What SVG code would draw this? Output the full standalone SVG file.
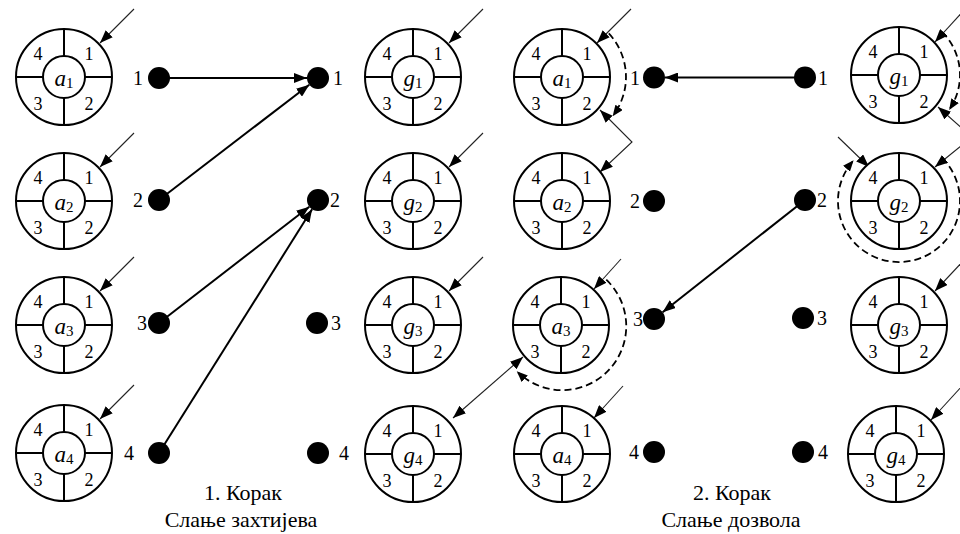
<svg xmlns="http://www.w3.org/2000/svg" xmlns:xlink="http://www.w3.org/1999/xlink" width="960" height="534" viewBox="0 0 960 534" font-family="Liberation Serif">
<style>
.rc{fill:#fff;stroke:#000;stroke-width:2}
.sp{fill:none;stroke:#000;stroke-width:2}
.q{font-size:18px;fill:#000;text-anchor:middle}
.nm{font-size:23px;font-style:italic;fill:#000;text-anchor:middle}
.sb{font-size:15px;font-style:normal}
.dot{fill:#000}
.dl{font-size:20px;fill:#000}
.e{text-anchor:end}
.main{fill:none;stroke:#000;stroke-width:2;marker-end:url(#ah)}
.thin{fill:none;stroke:#222;stroke-width:1.1;marker-end:url(#at)}
.dbl{fill:none;stroke:#222;stroke-width:1.1;marker-end:url(#at);marker-start:url(#at)}
.dash{fill:none;stroke:#000;stroke-width:1.8;stroke-dasharray:7 4;marker-end:url(#ad)}
.cap{font-size:22px;fill:#000;text-anchor:middle}
</style>
<defs>
<marker id="ah" viewBox="0 0 13 10" refX="13" refY="5" markerWidth="13" markerHeight="10" markerUnits="userSpaceOnUse" orient="auto"><path d="M0,0L13,5L0,10Z" fill="#000"/></marker>
<marker id="at" viewBox="0 0 13 10" refX="13" refY="5" markerWidth="13" markerHeight="10" markerUnits="userSpaceOnUse" orient="auto-start-reverse"><path d="M0,0L13,5L0,10Z" fill="#000"/></marker>
<marker id="ad" viewBox="0 0 11 9" refX="9" refY="4.5" markerWidth="11" markerHeight="9" markerUnits="userSpaceOnUse" orient="auto"><path d="M0,0L11,4.5L0,9Z" fill="#000"/></marker>
<g id="ring" font-family="Liberation Serif">
<circle class="rc" r="48"/>
<circle class="rc" r="21"/>
<path class="sp" d="M0,-48V-21M0,21V48M-48,0H-21M21,0H48"/>
<text class="q" x="-26" y="-17">4</text>
<text class="q" x="25" y="-17">1</text>
<text class="q" x="-26" y="33">3</text>
<text class="q" x="25" y="33">2</text>
</g>
</defs>

<g id="connectors">
<line class="main" x1="159" y1="78" x2="307" y2="78"/>
<line class="main" x1="159" y1="200" x2="309.3" y2="84.7"/>
<line class="main" x1="159" y1="323" x2="309.3" y2="206.7"/>
<line class="main" x1="159" y1="453" x2="312.1" y2="209.3"/>
<line class="main" x1="805" y1="77.5" x2="665" y2="77.5"/>
<line class="main" x1="805" y1="200" x2="662.6" y2="312.2"/>

<line class="thin" x1="134" y1="9" x2="100" y2="43"/>
<line class="thin" x1="134" y1="133" x2="100" y2="167"/>
<line class="thin" x1="134" y1="257" x2="100" y2="291"/>
<line class="thin" x1="134" y1="385" x2="100" y2="419"/>
<line class="thin" x1="483" y1="9" x2="449" y2="43"/>
<line class="thin" x1="483" y1="133" x2="449" y2="167"/>
<line class="thin" x1="483" y1="257" x2="449" y2="291"/>
<line class="dbl" x1="523" y1="357" x2="453" y2="418"/>

<line class="thin" x1="631" y1="9" x2="597" y2="43"/>
<polyline class="dbl" points="600,110 632,142 600,172"/>
<line class="thin" x1="621" y1="259" x2="594" y2="289"/>
<line class="thin" x1="623" y1="386" x2="594" y2="418"/>

<line class="thin" x1="966" y1="8" x2="935" y2="42"/>
<polyline class="dbl" points="938,107 972,137 935,167"/>
<line class="thin" x1="838" y1="137" x2="869" y2="167"/>
<line class="thin" x1="966" y1="258" x2="935" y2="291"/>
<line class="thin" x1="962" y1="386" x2="931" y2="420"/>

<path class="dash" d="M608.8,33.4A64,64 0 0 1 613.8,114.6"/>
<path class="dash" d="M606.3,279.7A64,64 0 0 1 518.2,372.6"/>
<path class="dash" d="M942.1,31.9A61,61 0 0 1 950.2,108.2"/>
<path class="dash" d="M942.1,157.9A61,61 0 1 1 852.3,161.8"/>
</g>

<g id="a1"><use xlink:href="#ring" x="64" y="77"/><text class="nm" x="64" y="86" font-family="Liberation Serif">a<tspan class="sb" dy="2">1</tspan></text></g>
<g id="a2"><use xlink:href="#ring" x="64" y="201"/><text class="nm" x="64" y="210" font-family="Liberation Serif">a<tspan class="sb" dy="2">2</tspan></text></g>
<g id="a3"><use xlink:href="#ring" x="64" y="325"/><text class="nm" x="64" y="334" font-family="Liberation Serif">a<tspan class="sb" dy="2">3</tspan></text></g>
<g id="a4"><use xlink:href="#ring" x="64" y="453"/><text class="nm" x="64" y="462" font-family="Liberation Serif">a<tspan class="sb" dy="2">4</tspan></text></g>

<g id="g1"><use xlink:href="#ring" x="413" y="77"/><text class="nm" x="413" y="86" font-family="Liberation Serif">g<tspan class="sb" dy="2">1</tspan></text></g>
<g id="g2"><use xlink:href="#ring" x="413" y="201"/><text class="nm" x="413" y="210" font-family="Liberation Serif">g<tspan class="sb" dy="2">2</tspan></text></g>
<g id="g3"><use xlink:href="#ring" x="413" y="325"/><text class="nm" x="413" y="334" font-family="Liberation Serif">g<tspan class="sb" dy="2">3</tspan></text></g>
<g id="g4"><use xlink:href="#ring" x="413" y="454"/><text class="nm" x="413" y="463" font-family="Liberation Serif">g<tspan class="sb" dy="2">4</tspan></text></g>

<g id="a1b"><use xlink:href="#ring" x="562" y="77"/><text class="nm" x="562" y="86" font-family="Liberation Serif">a<tspan class="sb" dy="2">1</tspan></text></g>
<g id="a2b"><use xlink:href="#ring" x="562" y="201"/><text class="nm" x="562" y="210" font-family="Liberation Serif">a<tspan class="sb" dy="2">2</tspan></text></g>
<g id="a3b"><use xlink:href="#ring" x="561" y="325"/><text class="nm" x="561" y="334" font-family="Liberation Serif">a<tspan class="sb" dy="2">3</tspan></text></g>
<g id="a4b"><use xlink:href="#ring" x="562" y="454"/><text class="nm" x="562" y="463" font-family="Liberation Serif">a<tspan class="sb" dy="2">4</tspan></text></g>

<g id="g1b"><use xlink:href="#ring" x="899" y="75"/><text class="nm" x="899" y="84" font-family="Liberation Serif">g<tspan class="sb" dy="2">1</tspan></text></g>
<g id="g2b"><use xlink:href="#ring" x="899" y="201"/><text class="nm" x="899" y="210" font-family="Liberation Serif">g<tspan class="sb" dy="2">2</tspan></text></g>
<g id="g3b"><use xlink:href="#ring" x="899" y="325"/><text class="nm" x="899" y="334" font-family="Liberation Serif">g<tspan class="sb" dy="2">3</tspan></text></g>
<g id="g4b"><use xlink:href="#ring" x="896" y="454"/><text class="nm" x="896" y="463" font-family="Liberation Serif">g<tspan class="sb" dy="2">4</tspan></text></g>

<g id="p1l1"><circle class="dot" cx="159" cy="78" r="11"/><text class="dl e" x="143" y="85" font-family="Liberation Serif">1</text></g>
<g id="p1l2"><circle class="dot" cx="159" cy="200" r="11"/><text class="dl e" x="143" y="207" font-family="Liberation Serif">2</text></g>
<g id="p1l3"><circle class="dot" cx="159" cy="323" r="11"/><text class="dl e" x="147" y="330" font-family="Liberation Serif">3</text></g>
<g id="p1l4"><circle class="dot" cx="159" cy="453" r="11"/><text class="dl e" x="134" y="460" font-family="Liberation Serif">4</text></g>
<g id="p1r1"><circle class="dot" cx="318" cy="78" r="11"/><text class="dl" x="333" y="85" font-family="Liberation Serif">1</text></g>
<g id="p1r2"><circle class="dot" cx="318" cy="200" r="11"/><text class="dl" x="330" y="207" font-family="Liberation Serif">2</text></g>
<g id="p1r3"><circle class="dot" cx="317" cy="323" r="11"/><text class="dl" x="331" y="330" font-family="Liberation Serif">3</text></g>
<g id="p1r4"><circle class="dot" cx="318" cy="453" r="11"/><text class="dl" x="339" y="460" font-family="Liberation Serif">4</text></g>

<g id="p2l1"><circle class="dot" cx="654" cy="77.5" r="11"/><text class="dl e" x="640" y="85" font-family="Liberation Serif">1</text></g>
<g id="p2l2"><circle class="dot" cx="654" cy="201" r="11"/><text class="dl e" x="640" y="208" font-family="Liberation Serif">2</text></g>
<g id="p2l3"><circle class="dot" cx="654" cy="319" r="11"/><text class="dl e" x="643" y="326" font-family="Liberation Serif">3</text></g>
<g id="p2l4"><circle class="dot" cx="654" cy="452" r="11"/><text class="dl e" x="639" y="459" font-family="Liberation Serif">4</text></g>
<g id="p2r1"><circle class="dot" cx="805" cy="77.5" r="11"/><text class="dl" x="818" y="85" font-family="Liberation Serif">1</text></g>
<g id="p2r2"><circle class="dot" cx="805" cy="200" r="11"/><text class="dl" x="817" y="207" font-family="Liberation Serif">2</text></g>
<g id="p2r3"><circle class="dot" cx="803" cy="318" r="11"/><text class="dl" x="817" y="325" font-family="Liberation Serif">3</text></g>
<g id="p2r4"><circle class="dot" cx="803" cy="452" r="11"/><text class="dl" x="818" y="459" font-family="Liberation Serif">4</text></g>

<g id="captions" font-family="Liberation Serif">
<text class="cap" x="243" y="500">1. Корак</text>
<text class="cap" x="241" y="527">Слање захтијева</text>
<text class="cap" x="732" y="500">2. Корак</text>
<text class="cap" x="731" y="527">Слање дозвола</text>
</g>
</svg>
